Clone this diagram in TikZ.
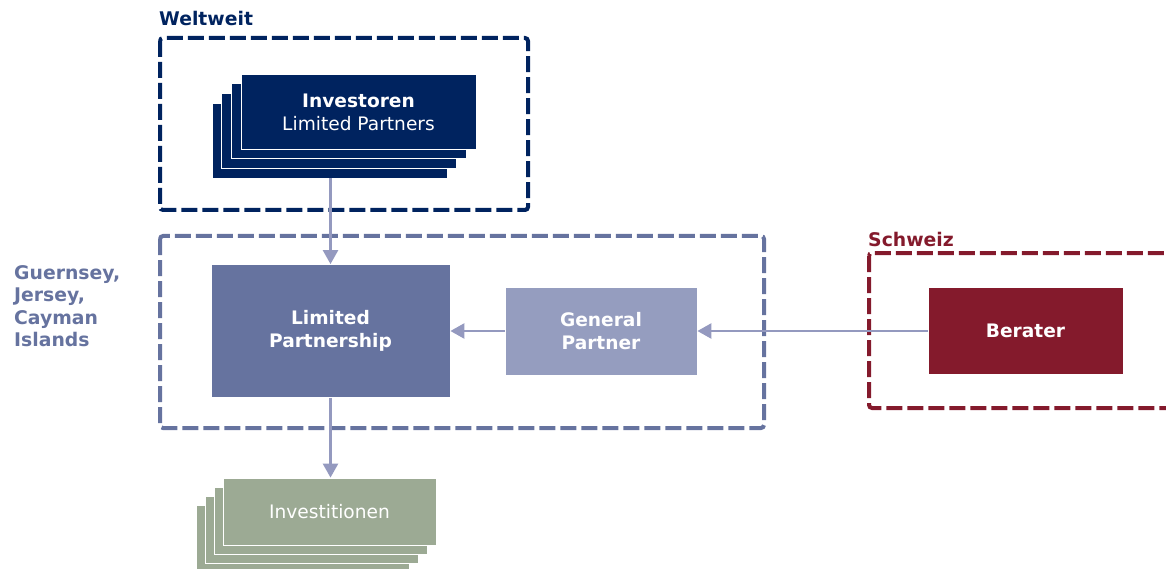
\documentclass[tikz,border=0pt]{standalone}
\usepackage{fontspec}
\setmainfont{DejaVu Sans}
\usetikzlibrary{arrows.meta}

\definecolor{navy}{RGB}{0,35,95}
\definecolor{slate}{RGB}{102,115,159}
\definecolor{lilac}{RGB}{149,157,191}
\definecolor{wine}{RGB}{132,26,44}
\definecolor{sage}{RGB}{156,170,148}
\definecolor{pfeil}{RGB}{148,153,191}

\begin{document}
\begin{tikzpicture}[x=1pt, y=-1pt,
        font=\fontsize{18.6}{23}\selectfont,
        box/.style={rectangle, draw=white, line width=0.8pt, text=white, align=center, inner sep=0pt},
        zone/.style={dash pattern=on 16pt off 5pt, line width=4pt, rounded corners=3pt},
        zonelabel/.style={anchor=west, inner sep=0pt, font=\fontsize{18.8}{22.5}\selectfont\bfseries},
        arrow/.style={-{Triangle[width=15pt,length=14pt]}, line width=2.5pt, draw=pfeil}
    ]
        \useasboundingbox (0,0) rectangle (1166,569);

        % Regionen
        \node[zonelabel, text=navy] (weltweit) at (159,18) {Weltweit};
        \draw[zone, navy] (160,38) rectangle (528,210);

        \node[zonelabel, text=slate, anchor=north west, align=left] (offshore) at (14,265)
            {Guernsey,\\Jersey,\\Cayman\\Islands};
        \draw[zone, slate] (160,236) rectangle (764,428);

        \node[zonelabel, text=wine] (schweiz) at (868,239) {Schweiz};
        \draw[zone, wine] (869,253) rectangle (1180,408);

        % Investoren (gestapelt)
        \foreach \i in {3,2,1}
            \node[box, fill=navy, minimum width=235pt, minimum height=75pt]
                (inv\i) at (358.5-9.7*\i, 110.5+10*\i) {};
        \node[box, fill=navy, minimum width=235pt, minimum height=75pt]
            (investoren) at (358.5,112) {\textbf{Investoren}\\Limited Partners};

        % Fonds
        \node[box, fill=slate, minimum width=239pt, minimum height=133pt, font=\fontsize{18.6}{23}\selectfont\bfseries]
            (lp) at (330.5,331) {Limited\\Partnership};
        \node[box, fill=lilac, minimum width=192pt, minimum height=88pt, font=\fontsize{18.6}{23}\selectfont\bfseries]
            (gp) at (601,331) {General\\Partner};
        \node[box, fill=wine, minimum width=195pt, minimum height=87pt, font=\fontsize{18.6}{23}\selectfont\bfseries]
            (berater) at (1025.5,331) {\raisebox{-2pt}{Berater}};

        % Investitionen (gestapelt)
        \foreach \i in {3,2,1}
            \node[box, fill=sage, minimum width=213pt, minimum height=67pt]
                (ivt\i) at (329.5-8.8*\i, 511.5+9*\i) {};
        \node[box, fill=sage, minimum width=213pt, minimum height=67pt]
            (investitionen) at (329.5,511.5) {Investitionen};

        \draw[arrow] (inv3.south -| lp.north) -- (lp.north);
        \draw[arrow] (gp) -- (lp);
        \draw[arrow] (berater) -- (gp);
        \draw[arrow] (lp.south) -- (investitionen.north -| lp.south);
    \end{tikzpicture}
\end{document}
